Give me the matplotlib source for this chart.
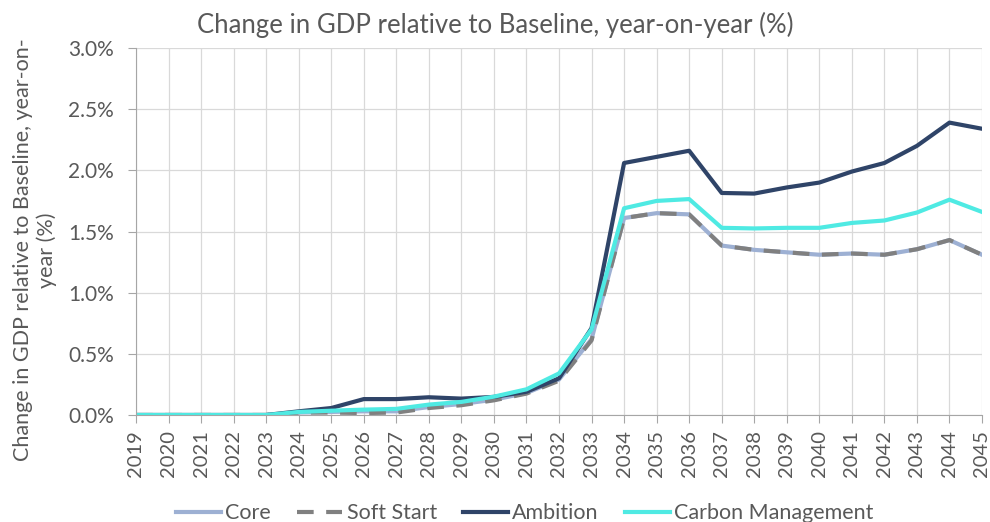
import matplotlib.pyplot as plt
from matplotlib.ticker import FuncFormatter

plt.rcParams['font.family'] = ['Lato', 'DejaVu Sans']

years = list(range(2019, 2046))

core = [0, 0, 0, 0, 0, 0.02, 0.025, 0.03, 0.03, 0.065, 0.09, 0.125, 0.18, 0.29,
        0.62, 1.61, 1.65, 1.64, 1.385, 1.35, 1.33, 1.31, 1.32, 1.31, 1.355, 1.43, 1.31]
soft_start = [0, 0, 0, 0, 0, 0.02, 0.02, 0.016, 0.02, 0.057, 0.08, 0.12, 0.175, 0.28,
              0.61, 1.61, 1.65, 1.64, 1.385, 1.35, 1.33, 1.31, 1.32, 1.31, 1.355, 1.43, 1.31]
ambition = [0, 0, 0, 0, 0, 0.03, 0.057, 0.13, 0.13, 0.145, 0.134, 0.148, 0.19, 0.30,
            0.71, 2.06, 2.11, 2.16, 1.815, 1.81, 1.86, 1.90, 1.99, 2.06, 2.20, 2.39, 2.34]
carbon = [0, 0, 0, 0, 0, 0.025, 0.035, 0.044, 0.05, 0.085, 0.107, 0.15, 0.21, 0.34,
          0.70, 1.69, 1.75, 1.765, 1.53, 1.525, 1.53, 1.53, 1.57, 1.59, 1.655, 1.76, 1.66]

grey = '#595959'
fig = plt.figure(figsize=(9.9, 5.22), dpi=100)
ax = fig.add_axes([136 / 990, 1 - 415 / 522, 846 / 990, 367 / 522])

ax.plot(years, core, color='#9DB0D3', lw=3, label='Core')
ax.plot(years, soft_start, color='#808080', lw=3, dashes=(4, 3), label='Soft Start')
ax.plot(years, ambition, color='#2F4468', lw=3, label='Ambition')
ax.plot(years, carbon, color='#4FEAE3', lw=3, label='Carbon Management')

ax.set_xlim(2019, 2045)
ax.set_ylim(0, 3.0)
ax.set_xticks(years)
ax.set_xticklabels([str(y) for y in years], rotation=90)
ax.set_yticks([0, 0.5, 1.0, 1.5, 2.0, 2.5, 3.0])
ax.yaxis.set_major_formatter(FuncFormatter(lambda v, p: f'{v:.1f}%'))
ax.tick_params(axis='both', colors='#A6A6A6', labelcolor=grey, labelsize=14.5, length=6)
ax.tick_params(axis='x', pad=5)
ax.tick_params(axis='y', pad=10, labelsize=15)
ax.grid(True, color='#D9D9D9', lw=0.9)
ax.set_axisbelow(True)
for s in ['top', 'right']:
    ax.spines[s].set_visible(False)
for s in ['left', 'bottom']:
    ax.spines[s].set_color('#A6A6A6')

# y label drawn as figure text so both lines are centred
fig.text(35 / 990, 1 - 250 / 522, 'Change in GDP relative to Baseline, year-on-\nyear (%)',
         rotation=90, ha='center', va='center', multialignment='center',
         color=grey, fontsize=15.5)
fig.text(0.5, 0.952, 'Change in GDP relative to Baseline, year-on-year (%)',
         ha='center', va='center', fontsize=18.5, color=grey)

fig.legend(loc='center', bbox_to_anchor=(0.53, 0.017), ncol=4, frameon=False,
           fontsize=15.5, labelcolor=grey, handlelength=2.1, columnspacing=1.2,
           handletextpad=0.2)

fig.savefig('out.png', dpi=100)
